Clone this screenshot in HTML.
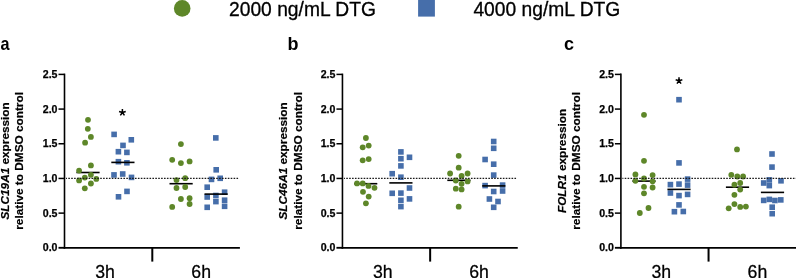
<!DOCTYPE html><html><head><meta charset="utf-8"><style>html,body{margin:0;padding:0;background:#fff;}svg{display:block;will-change:transform;}</style></head><body>
<svg width="796" height="278" viewBox="0 0 796 278" font-family="'Liberation Sans', sans-serif">
<rect width="796" height="278" fill="#fff"/>
<circle cx="182.2" cy="8.4" r="8.3" fill="#5E8729"/>
<rect x="418.1" y="0" width="16.8" height="16.6" fill="#466EAA"/>
<text transform="translate(229.0 15.6) scale(1 1.09)" font-size="19.25" stroke="#000" stroke-width="0.3">2000 ng/mL DTG</text>
<text transform="translate(473.4 15.6) scale(1 1.09)" font-size="19.25" stroke="#000" stroke-width="0.3">4000 ng/mL DTG</text>
<text transform="translate(0.6 50.3) scale(0.9 1)" font-size="18" font-weight="bold">a</text>
<text transform="translate(287.4 50.3) scale(1.0 1)" font-size="18" font-weight="bold">b</text>
<text transform="translate(563.9 50.3) scale(1.0 1)" font-size="18" font-weight="bold">c</text>
<path d="M64.50 73.60V248.70" fill="none" stroke="#000" stroke-width="1.6"/>
<path d="M63.70 247.80H239.90" fill="none" stroke="#000" stroke-width="1.85"/>
<line x1="58.50" y1="247.80" x2="64.50" y2="247.80" stroke="#000" stroke-width="1.85"/>
<text x="57.50" y="251.25" font-size="10.6" font-weight="bold" text-anchor="end" stroke="#000" stroke-width="0.25">0.0</text>
<line x1="58.50" y1="213.12" x2="64.50" y2="213.12" stroke="#000" stroke-width="1.5"/>
<text x="57.50" y="216.57" font-size="10.6" font-weight="bold" text-anchor="end" stroke="#000" stroke-width="0.25">0.5</text>
<line x1="58.50" y1="178.44" x2="64.50" y2="178.44" stroke="#000" stroke-width="1.5"/>
<text x="57.50" y="181.89" font-size="10.6" font-weight="bold" text-anchor="end" stroke="#000" stroke-width="0.25">1.0</text>
<line x1="58.50" y1="143.76" x2="64.50" y2="143.76" stroke="#000" stroke-width="1.5"/>
<text x="57.50" y="147.21" font-size="10.6" font-weight="bold" text-anchor="end" stroke="#000" stroke-width="0.25">1.5</text>
<line x1="58.50" y1="109.08" x2="64.50" y2="109.08" stroke="#000" stroke-width="1.5"/>
<text x="57.50" y="112.53" font-size="10.6" font-weight="bold" text-anchor="end" stroke="#000" stroke-width="0.25">2.0</text>
<line x1="58.50" y1="74.40" x2="64.50" y2="74.40" stroke="#000" stroke-width="1.5"/>
<text x="57.50" y="77.85" font-size="10.6" font-weight="bold" text-anchor="end" stroke="#000" stroke-width="0.25">2.5</text>
<line x1="152.30" y1="247.80" x2="152.30" y2="261.6" stroke="#000" stroke-width="2.0"/>
<text transform="translate(105.00 278.0) scale(1 1.04)" font-size="17.7" text-anchor="middle" stroke="#000" stroke-width="0.25">3h</text>
<text transform="translate(201.20 278.0) scale(1 1.04)" font-size="17.7" text-anchor="middle" stroke="#000" stroke-width="0.25">6h</text>
<text transform="translate(8.85 160.9) rotate(-90) scale(1 1.0)" font-size="11.8" font-weight="bold" text-anchor="middle" stroke="#000" stroke-width="0.2"><tspan font-style="italic">SLC19A1</tspan> expression</text>
<text transform="translate(23.35 160.9) rotate(-90) scale(1 1.0)" font-size="11.8" font-weight="bold" text-anchor="middle" stroke="#000" stroke-width="0.2">relative to DMSO control</text>
<rect x="111.30" y="131.60" width="5.6" height="5.6" fill="#466EAA"/>
<rect x="128.50" y="137.00" width="5.6" height="5.6" fill="#466EAA"/>
<rect x="120.20" y="142.60" width="5.6" height="5.6" fill="#466EAA"/>
<rect x="115.60" y="148.90" width="5.6" height="5.6" fill="#466EAA"/>
<rect x="124.10" y="149.60" width="5.6" height="5.6" fill="#466EAA"/>
<rect x="115.60" y="158.90" width="5.6" height="5.6" fill="#466EAA"/>
<rect x="124.10" y="160.00" width="5.6" height="5.6" fill="#466EAA"/>
<rect x="111.20" y="172.10" width="5.6" height="5.6" fill="#466EAA"/>
<rect x="119.90" y="171.20" width="5.6" height="5.6" fill="#466EAA"/>
<rect x="128.70" y="174.60" width="5.6" height="5.6" fill="#466EAA"/>
<rect x="124.20" y="188.60" width="5.6" height="5.6" fill="#466EAA"/>
<rect x="115.70" y="194.00" width="5.6" height="5.6" fill="#466EAA"/>
<rect x="213.00" y="135.10" width="5.6" height="5.6" fill="#466EAA"/>
<rect x="213.40" y="167.00" width="5.6" height="5.6" fill="#466EAA"/>
<rect x="217.40" y="175.50" width="5.6" height="5.6" fill="#466EAA"/>
<rect x="208.70" y="176.60" width="5.6" height="5.6" fill="#466EAA"/>
<rect x="204.40" y="184.40" width="5.6" height="5.6" fill="#466EAA"/>
<rect x="221.80" y="189.40" width="5.6" height="5.6" fill="#466EAA"/>
<rect x="213.10" y="192.70" width="5.6" height="5.6" fill="#466EAA"/>
<rect x="204.40" y="194.20" width="5.6" height="5.6" fill="#466EAA"/>
<rect x="221.80" y="197.40" width="5.6" height="5.6" fill="#466EAA"/>
<rect x="213.10" y="198.80" width="5.6" height="5.6" fill="#466EAA"/>
<rect x="221.80" y="203.50" width="5.6" height="5.6" fill="#466EAA"/>
<rect x="204.40" y="204.50" width="5.6" height="5.6" fill="#466EAA"/>
<line x1="76.40" y1="172.5" x2="99.60" y2="172.5" stroke="#000" stroke-width="1.6"/>
<line x1="111.30" y1="162.4" x2="134.50" y2="162.4" stroke="#000" stroke-width="1.6"/>
<line x1="169.50" y1="183.7" x2="192.70" y2="183.7" stroke="#000" stroke-width="1.6"/>
<line x1="204.50" y1="194.1" x2="227.70" y2="194.1" stroke="#000" stroke-width="1.6"/>
<circle cx="88.0" cy="119.8" r="2.9" fill="#5E8729"/>
<circle cx="87.8" cy="128.8" r="2.9" fill="#5E8729"/>
<circle cx="90.9" cy="136.9" r="2.9" fill="#5E8729"/>
<circle cx="85.1" cy="142.7" r="2.9" fill="#5E8729"/>
<circle cx="90.9" cy="165.4" r="2.9" fill="#5E8729"/>
<circle cx="79.1" cy="170.6" r="2.9" fill="#5E8729"/>
<circle cx="90.9" cy="174.8" r="2.9" fill="#5E8729"/>
<circle cx="84.8" cy="177.6" r="2.9" fill="#5E8729"/>
<circle cx="96.3" cy="178.9" r="2.9" fill="#5E8729"/>
<circle cx="79.1" cy="180.4" r="2.9" fill="#5E8729"/>
<circle cx="90.9" cy="183.5" r="2.9" fill="#5E8729"/>
<circle cx="84.8" cy="188.3" r="2.9" fill="#5E8729"/>
<circle cx="180.9" cy="144.1" r="2.9" fill="#5E8729"/>
<circle cx="172.2" cy="159.8" r="2.9" fill="#5E8729"/>
<circle cx="189.6" cy="161.4" r="2.9" fill="#5E8729"/>
<circle cx="180.9" cy="163.1" r="2.9" fill="#5E8729"/>
<circle cx="185.2" cy="178.2" r="2.9" fill="#5E8729"/>
<circle cx="176.5" cy="180.1" r="2.9" fill="#5E8729"/>
<circle cx="185.2" cy="187.0" r="2.9" fill="#5E8729"/>
<circle cx="176.5" cy="188.0" r="2.9" fill="#5E8729"/>
<circle cx="189.6" cy="198.2" r="2.9" fill="#5E8729"/>
<circle cx="180.9" cy="199.0" r="2.9" fill="#5E8729"/>
<circle cx="189.6" cy="204.0" r="2.9" fill="#5E8729"/>
<circle cx="172.2" cy="206.9" r="2.9" fill="#5E8729"/>
<line x1="66.00" y1="178.44" x2="238.80" y2="178.44" stroke="#1a1a1a" stroke-width="1.2" stroke-dasharray="1.6 1.3" stroke-dashoffset="0.6"/>
<path d="M342.45 73.60V248.70" fill="none" stroke="#000" stroke-width="1.6"/>
<path d="M341.65 247.80H517.75" fill="none" stroke="#000" stroke-width="1.85"/>
<line x1="336.45" y1="247.80" x2="342.45" y2="247.80" stroke="#000" stroke-width="1.85"/>
<text x="335.45" y="251.25" font-size="10.6" font-weight="bold" text-anchor="end" stroke="#000" stroke-width="0.25">0.0</text>
<line x1="336.45" y1="213.12" x2="342.45" y2="213.12" stroke="#000" stroke-width="1.5"/>
<text x="335.45" y="216.57" font-size="10.6" font-weight="bold" text-anchor="end" stroke="#000" stroke-width="0.25">0.5</text>
<line x1="336.45" y1="178.44" x2="342.45" y2="178.44" stroke="#000" stroke-width="1.5"/>
<text x="335.45" y="181.89" font-size="10.6" font-weight="bold" text-anchor="end" stroke="#000" stroke-width="0.25">1.0</text>
<line x1="336.45" y1="143.76" x2="342.45" y2="143.76" stroke="#000" stroke-width="1.5"/>
<text x="335.45" y="147.21" font-size="10.6" font-weight="bold" text-anchor="end" stroke="#000" stroke-width="0.25">1.5</text>
<line x1="336.45" y1="109.08" x2="342.45" y2="109.08" stroke="#000" stroke-width="1.5"/>
<text x="335.45" y="112.53" font-size="10.6" font-weight="bold" text-anchor="end" stroke="#000" stroke-width="0.25">2.0</text>
<line x1="336.45" y1="74.40" x2="342.45" y2="74.40" stroke="#000" stroke-width="1.5"/>
<text x="335.45" y="77.85" font-size="10.6" font-weight="bold" text-anchor="end" stroke="#000" stroke-width="0.25">2.5</text>
<line x1="430.15" y1="247.80" x2="430.15" y2="261.6" stroke="#000" stroke-width="2.0"/>
<text transform="translate(382.85 278.0) scale(1 1.04)" font-size="17.7" text-anchor="middle" stroke="#000" stroke-width="0.25">3h</text>
<text transform="translate(479.05 278.0) scale(1 1.04)" font-size="17.7" text-anchor="middle" stroke="#000" stroke-width="0.25">6h</text>
<text transform="translate(287.25 160.9) rotate(-90) scale(1 1.0)" font-size="11.8" font-weight="bold" text-anchor="middle" stroke="#000" stroke-width="0.2"><tspan font-style="italic">SLC46A1</tspan> expression</text>
<text transform="translate(301.75 160.9) rotate(-90) scale(1 1.0)" font-size="11.8" font-weight="bold" text-anchor="middle" stroke="#000" stroke-width="0.2">relative to DMSO control</text>
<rect x="398.10" y="149.10" width="5.6" height="5.6" fill="#466EAA"/>
<rect x="406.70" y="154.50" width="5.6" height="5.6" fill="#466EAA"/>
<rect x="398.10" y="155.90" width="5.6" height="5.6" fill="#466EAA"/>
<rect x="398.10" y="163.10" width="5.6" height="5.6" fill="#466EAA"/>
<rect x="389.40" y="170.90" width="5.6" height="5.6" fill="#466EAA"/>
<rect x="398.10" y="174.40" width="5.6" height="5.6" fill="#466EAA"/>
<rect x="406.70" y="185.20" width="5.6" height="5.6" fill="#466EAA"/>
<rect x="389.40" y="190.50" width="5.6" height="5.6" fill="#466EAA"/>
<rect x="398.10" y="190.30" width="5.6" height="5.6" fill="#466EAA"/>
<rect x="406.70" y="196.10" width="5.6" height="5.6" fill="#466EAA"/>
<rect x="398.10" y="197.50" width="5.6" height="5.6" fill="#466EAA"/>
<rect x="398.10" y="203.80" width="5.6" height="5.6" fill="#466EAA"/>
<rect x="490.90" y="138.70" width="5.6" height="5.6" fill="#466EAA"/>
<rect x="490.90" y="145.50" width="5.6" height="5.6" fill="#466EAA"/>
<rect x="482.30" y="156.70" width="5.6" height="5.6" fill="#466EAA"/>
<rect x="490.90" y="161.40" width="5.6" height="5.6" fill="#466EAA"/>
<rect x="490.90" y="172.30" width="5.6" height="5.6" fill="#466EAA"/>
<rect x="482.30" y="182.80" width="5.6" height="5.6" fill="#466EAA"/>
<rect x="499.80" y="182.30" width="5.6" height="5.6" fill="#466EAA"/>
<rect x="490.90" y="188.70" width="5.6" height="5.6" fill="#466EAA"/>
<rect x="499.80" y="188.20" width="5.6" height="5.6" fill="#466EAA"/>
<rect x="486.60" y="196.20" width="5.6" height="5.6" fill="#466EAA"/>
<rect x="495.20" y="198.70" width="5.6" height="5.6" fill="#466EAA"/>
<rect x="490.90" y="204.50" width="5.6" height="5.6" fill="#466EAA"/>
<line x1="354.10" y1="183.7" x2="377.30" y2="183.7" stroke="#000" stroke-width="1.6"/>
<line x1="389.30" y1="182.9" x2="412.50" y2="182.9" stroke="#000" stroke-width="1.6"/>
<line x1="447.30" y1="180.3" x2="470.50" y2="180.3" stroke="#000" stroke-width="1.6"/>
<line x1="482.20" y1="185.9" x2="505.40" y2="185.9" stroke="#000" stroke-width="1.6"/>
<circle cx="365.9" cy="138.0" r="2.9" fill="#5E8729"/>
<circle cx="368.7" cy="145.6" r="2.9" fill="#5E8729"/>
<circle cx="362.7" cy="147.3" r="2.9" fill="#5E8729"/>
<circle cx="368.7" cy="159.1" r="2.9" fill="#5E8729"/>
<circle cx="362.7" cy="160.3" r="2.9" fill="#5E8729"/>
<circle cx="357.0" cy="183.4" r="2.9" fill="#5E8729"/>
<circle cx="362.7" cy="183.4" r="2.9" fill="#5E8729"/>
<circle cx="368.5" cy="185.9" r="2.9" fill="#5E8729"/>
<circle cx="374.5" cy="187.8" r="2.9" fill="#5E8729"/>
<circle cx="363.0" cy="191.8" r="2.9" fill="#5E8729"/>
<circle cx="368.7" cy="196.6" r="2.9" fill="#5E8729"/>
<circle cx="365.9" cy="203.3" r="2.9" fill="#5E8729"/>
<circle cx="458.7" cy="155.8" r="2.9" fill="#5E8729"/>
<circle cx="458.7" cy="167.7" r="2.9" fill="#5E8729"/>
<circle cx="450.1" cy="173.5" r="2.9" fill="#5E8729"/>
<circle cx="467.6" cy="173.5" r="2.9" fill="#5E8729"/>
<circle cx="461.6" cy="175.9" r="2.9" fill="#5E8729"/>
<circle cx="455.8" cy="180.5" r="2.9" fill="#5E8729"/>
<circle cx="467.6" cy="181.4" r="2.9" fill="#5E8729"/>
<circle cx="461.6" cy="183.8" r="2.9" fill="#5E8729"/>
<circle cx="455.8" cy="188.7" r="2.9" fill="#5E8729"/>
<circle cx="461.6" cy="189.4" r="2.9" fill="#5E8729"/>
<circle cx="458.7" cy="206.7" r="2.9" fill="#5E8729"/>
<line x1="343.95" y1="178.44" x2="516.65" y2="178.44" stroke="#1a1a1a" stroke-width="1.2" stroke-dasharray="1.6 1.3" stroke-dashoffset="0.6"/>
<path d="M620.90 73.60V248.70" fill="none" stroke="#000" stroke-width="1.6"/>
<path d="M620.10 247.80H796.00" fill="none" stroke="#000" stroke-width="1.85"/>
<line x1="614.90" y1="247.80" x2="620.90" y2="247.80" stroke="#000" stroke-width="1.85"/>
<text x="613.90" y="251.25" font-size="10.6" font-weight="bold" text-anchor="end" stroke="#000" stroke-width="0.25">0.0</text>
<line x1="614.90" y1="213.12" x2="620.90" y2="213.12" stroke="#000" stroke-width="1.5"/>
<text x="613.90" y="216.57" font-size="10.6" font-weight="bold" text-anchor="end" stroke="#000" stroke-width="0.25">0.5</text>
<line x1="614.90" y1="178.44" x2="620.90" y2="178.44" stroke="#000" stroke-width="1.5"/>
<text x="613.90" y="181.89" font-size="10.6" font-weight="bold" text-anchor="end" stroke="#000" stroke-width="0.25">1.0</text>
<line x1="614.90" y1="143.76" x2="620.90" y2="143.76" stroke="#000" stroke-width="1.5"/>
<text x="613.90" y="147.21" font-size="10.6" font-weight="bold" text-anchor="end" stroke="#000" stroke-width="0.25">1.5</text>
<line x1="614.90" y1="109.08" x2="620.90" y2="109.08" stroke="#000" stroke-width="1.5"/>
<text x="613.90" y="112.53" font-size="10.6" font-weight="bold" text-anchor="end" stroke="#000" stroke-width="0.25">2.0</text>
<line x1="614.90" y1="74.40" x2="620.90" y2="74.40" stroke="#000" stroke-width="1.5"/>
<text x="613.90" y="77.85" font-size="10.6" font-weight="bold" text-anchor="end" stroke="#000" stroke-width="0.25">2.5</text>
<line x1="708.55" y1="247.80" x2="708.55" y2="261.6" stroke="#000" stroke-width="2.0"/>
<text transform="translate(661.25 278.0) scale(1 1.04)" font-size="17.7" text-anchor="middle" stroke="#000" stroke-width="0.25">3h</text>
<text transform="translate(757.45 278.0) scale(1 1.04)" font-size="17.7" text-anchor="middle" stroke="#000" stroke-width="0.25">6h</text>
<text transform="translate(565.65 160.9) rotate(-90) scale(1 1.0)" font-size="11.8" font-weight="bold" text-anchor="middle" stroke="#000" stroke-width="0.2"><tspan font-style="italic">FOLR1</tspan> expression</text>
<text transform="translate(580.15 160.9) rotate(-90) scale(1 1.0)" font-size="11.8" font-weight="bold" text-anchor="middle" stroke="#000" stroke-width="0.2">relative to DMSO control</text>
<rect x="676.20" y="96.90" width="5.6" height="5.6" fill="#466EAA"/>
<rect x="676.20" y="160.10" width="5.6" height="5.6" fill="#466EAA"/>
<rect x="684.80" y="176.30" width="5.6" height="5.6" fill="#466EAA"/>
<rect x="676.20" y="181.30" width="5.6" height="5.6" fill="#466EAA"/>
<rect x="667.60" y="181.80" width="5.6" height="5.6" fill="#466EAA"/>
<rect x="684.80" y="182.30" width="5.6" height="5.6" fill="#466EAA"/>
<rect x="667.60" y="190.20" width="5.6" height="5.6" fill="#466EAA"/>
<rect x="684.80" y="191.60" width="5.6" height="5.6" fill="#466EAA"/>
<rect x="676.20" y="192.80" width="5.6" height="5.6" fill="#466EAA"/>
<rect x="676.20" y="202.10" width="5.6" height="5.6" fill="#466EAA"/>
<rect x="680.50" y="208.70" width="5.6" height="5.6" fill="#466EAA"/>
<rect x="671.60" y="208.90" width="5.6" height="5.6" fill="#466EAA"/>
<rect x="769.20" y="151.20" width="5.6" height="5.6" fill="#466EAA"/>
<rect x="769.20" y="164.30" width="5.6" height="5.6" fill="#466EAA"/>
<rect x="766.50" y="177.10" width="5.6" height="5.6" fill="#466EAA"/>
<rect x="778.20" y="178.00" width="5.6" height="5.6" fill="#466EAA"/>
<rect x="760.90" y="180.20" width="5.6" height="5.6" fill="#466EAA"/>
<rect x="766.50" y="182.80" width="5.6" height="5.6" fill="#466EAA"/>
<rect x="766.50" y="196.60" width="5.6" height="5.6" fill="#466EAA"/>
<rect x="778.00" y="197.10" width="5.6" height="5.6" fill="#466EAA"/>
<rect x="760.90" y="197.60" width="5.6" height="5.6" fill="#466EAA"/>
<rect x="772.10" y="197.70" width="5.6" height="5.6" fill="#466EAA"/>
<rect x="769.40" y="204.40" width="5.6" height="5.6" fill="#466EAA"/>
<rect x="769.40" y="210.90" width="5.6" height="5.6" fill="#466EAA"/>
<line x1="632.40" y1="181.1" x2="655.60" y2="181.1" stroke="#000" stroke-width="1.6"/>
<line x1="667.40" y1="189.4" x2="690.60" y2="189.4" stroke="#000" stroke-width="1.6"/>
<line x1="725.90" y1="187.2" x2="749.10" y2="187.2" stroke="#000" stroke-width="1.6"/>
<line x1="760.90" y1="192.4" x2="784.10" y2="192.4" stroke="#000" stroke-width="1.6"/>
<circle cx="644.0" cy="114.8" r="2.9" fill="#5E8729"/>
<circle cx="644.0" cy="160.8" r="2.9" fill="#5E8729"/>
<circle cx="635.4" cy="174.5" r="2.9" fill="#5E8729"/>
<circle cx="652.6" cy="175.1" r="2.9" fill="#5E8729"/>
<circle cx="644.0" cy="178.5" r="2.9" fill="#5E8729"/>
<circle cx="635.4" cy="180.8" r="2.9" fill="#5E8729"/>
<circle cx="652.6" cy="181.3" r="2.9" fill="#5E8729"/>
<circle cx="644.0" cy="186.8" r="2.9" fill="#5E8729"/>
<circle cx="652.6" cy="187.5" r="2.9" fill="#5E8729"/>
<circle cx="644.0" cy="193.3" r="2.9" fill="#5E8729"/>
<circle cx="648.5" cy="208.0" r="2.9" fill="#5E8729"/>
<circle cx="639.8" cy="213.0" r="2.9" fill="#5E8729"/>
<circle cx="737.0" cy="149.4" r="2.9" fill="#5E8729"/>
<circle cx="731.3" cy="174.8" r="2.9" fill="#5E8729"/>
<circle cx="737.3" cy="176.5" r="2.9" fill="#5E8729"/>
<circle cx="743.1" cy="176.5" r="2.9" fill="#5E8729"/>
<circle cx="740.2" cy="183.0" r="2.9" fill="#5E8729"/>
<circle cx="734.4" cy="184.7" r="2.9" fill="#5E8729"/>
<circle cx="740.2" cy="189.6" r="2.9" fill="#5E8729"/>
<circle cx="734.4" cy="194.8" r="2.9" fill="#5E8729"/>
<circle cx="734.4" cy="204.1" r="2.9" fill="#5E8729"/>
<circle cx="745.9" cy="206.6" r="2.9" fill="#5E8729"/>
<circle cx="740.2" cy="206.9" r="2.9" fill="#5E8729"/>
<circle cx="728.7" cy="208.3" r="2.9" fill="#5E8729"/>
<line x1="622.40" y1="178.44" x2="796.00" y2="178.44" stroke="#1a1a1a" stroke-width="1.2" stroke-dasharray="1.6 1.3" stroke-dashoffset="0.6"/>
<path d="M122.40 112.50L122.40 109.00M122.40 112.50L125.73 111.42M122.40 112.50L119.07 111.42M122.40 112.50L124.46 115.33M122.40 112.50L120.34 115.33" stroke="#000" stroke-width="1.5" fill="none"/>
<path d="M679.00 80.80L679.00 77.30M679.00 80.80L682.33 79.72M679.00 80.80L675.67 79.72M679.00 80.80L681.06 83.63M679.00 80.80L676.94 83.63" stroke="#000" stroke-width="1.5" fill="none"/>
</svg></body></html>
